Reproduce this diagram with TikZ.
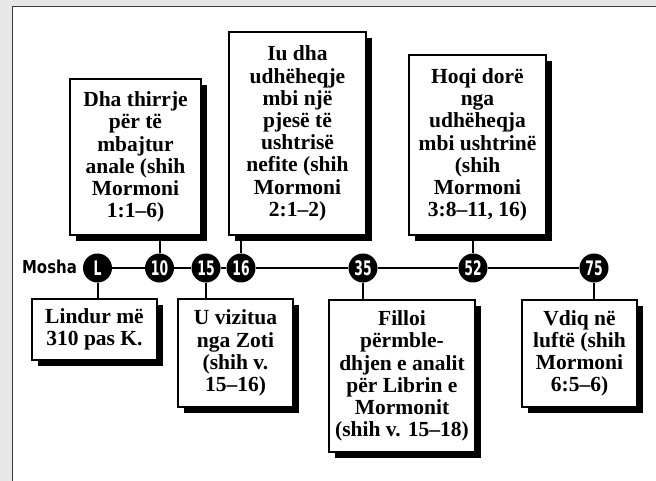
\documentclass[tikz,border=0pt]{standalone}
\usepackage{fontspec}
\newfontfamily\boxfont{Liberation Serif}
\newfontfamily\numfont[FakeStretch=0.62]{DejaVu Sans}
\newfontfamily\moshafont[FakeStretch=0.84]{DejaVu Sans}
\usetikzlibrary{shadows}
\definecolor{bggray}{HTML}{E6E7E6}
\definecolor{framegray}{HTML}{3A3A3A}
\tikzset{
  evbox/.style={draw=black, line width=1.8pt, fill=white, align=center, inner sep=0pt,
    font=\boxfont\bfseries\fontsize{21.5}{22.2}\selectfont,
    drop shadow={shadow xshift=6pt, shadow yshift=-6pt, fill=black, opacity=1}},
  age/.style={circle, fill=black, minimum size=29pt, inner sep=0pt, text=white,
    font=\numfont\bfseries\fontsize{20}{20}\selectfont},
  conn/.style={line width=2pt, black}
}
\begin{document}
\begin{tikzpicture}[x=1pt,y=-1pt]
\useasboundingbox (0,0) rectangle (656,481);
\fill[bggray] (0,0) rectangle (656,481);
\fill[white] (13,7) rectangle (656,481);
\draw[framegray, line width=1.5pt] (12.5,481) -- (12.5,6.5) -- (656,6.5);

% top boxes
\node[evbox, minimum width=131pt, minimum height=156pt] (top1) at (135.5,157)
  {Dha thirrje\\për të\\mbajtur\\anale (shih\\Mormoni\\1:1–6)};
\node[evbox, minimum width=137pt, minimum height=203pt] (top2) at (297.5,133.5)
  {Iu dha\\udhëheqje\\mbi një\\pjesë të\\ushtrisë\\nefite (shih\\Mormoni\\2:1–2)};
\node[evbox, minimum width=137pt, minimum height=180pt] (top3) at (477.5,145)
  {Hoqi dorë\\nga\\udhëheqja\\mbi ushtrinë\\(shih\\Mormoni\\3:8–11, 16)};

% bottom boxes
\node[evbox, minimum width=125pt, minimum height=61pt] (bot1) at (94.5,329.5)
  {Lindur më\\310 pas K.};
\node[evbox, minimum width=115pt, minimum height=108pt] (bot2) at (235.5,353)
  {U vizitua\\nga Zoti\\(shih v.\\15–16)};
\node[evbox, minimum width=146pt, minimum height=152pt] (bot3) at (402,376)
  {Filloi\\përmble-\\dhjen e analit\\për Librin e\\Mormonit\\(shih v. 15–18)};
\node[evbox, minimum width=115pt, minimum height=107pt] (bot4) at (579.5,353.5)
  {Vdiq në\\luftë (shih\\Mormoni\\6:5–6)};

% age circles
\node[age] (c0)  at (97.5,268) {L};
\node[age] (c10) at (159.5,268) {10};
\node[age] (c15) at (206,268) {15};
\node[age] (c16) at (241,268) {16};
\node[age] (c35) at (363,268) {35};
\node[age] (c52) at (473,268) {52};
\node[age] (c75) at (594,268) {75};

\node[anchor=base, inner sep=0pt, font=\moshafont\bfseries\fontsize{17.8}{17.8}\selectfont] (mosha) at (49.5,273.5) {Mosha};

% timeline
\draw[conn] (c0) -- (c10);
\draw[conn] (c10) -- (c15);
\draw[conn] (c15) -- (c16);
\draw[conn] (c16) -- (c35);
\draw[conn] (c35) -- (c52);
\draw[conn] (c52) -- (c75);

% vertical connectors
\draw[conn] (c10) -- (c10 |- top1.south);
\draw[conn] (c16) -- (c16 |- top2.south);
\draw[conn] (c52) -- (c52 |- top3.south);
\draw[conn] (c0) -- (c0 |- bot1.north);
\draw[conn] (c15) -- (c15 |- bot2.north);
\draw[conn] (c35) -- (c35 |- bot3.north);
\draw[conn] (c75) -- (c75 |- bot4.north);
\end{tikzpicture}
\end{document}
